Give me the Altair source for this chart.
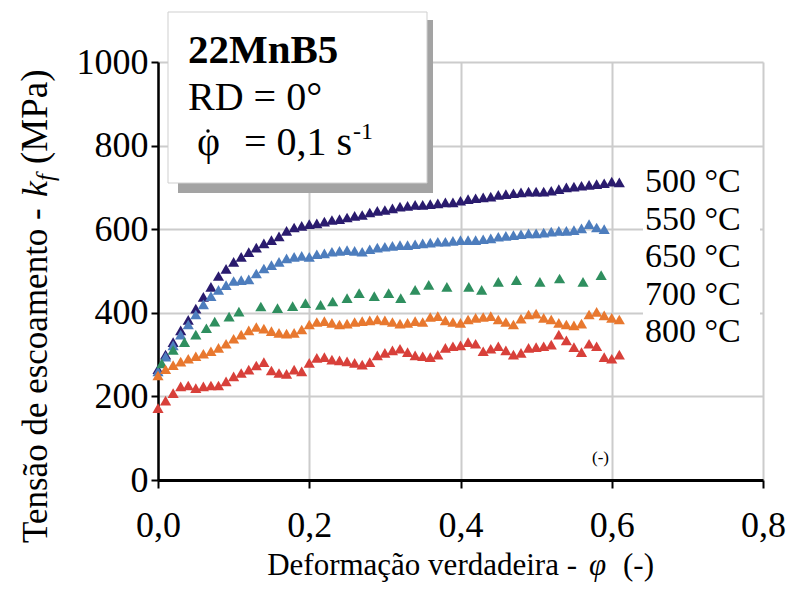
import altair as alt
import pandas as pd

series = ["500 °C", "550 °C", "650 °C", "700 °C", "800 °C"]
colors = ["#2a1b6e", "#4d7dbd", "#2f8f5f", "#e8782f", "#d8403a"]

phi_dense = [0.00, 0.01, 0.02, 0.03, 0.04, 0.05, 0.06, 0.07, 0.08, 0.09,
             0.10, 0.11, 0.12, 0.13, 0.14, 0.15, 0.16, 0.17, 0.18, 0.19,
             0.20, 0.21, 0.22, 0.23, 0.24, 0.25, 0.26, 0.27, 0.28, 0.29,
             0.30, 0.31, 0.32, 0.33, 0.34, 0.35, 0.36, 0.37, 0.38, 0.39,
             0.40, 0.41, 0.42, 0.43, 0.44, 0.45, 0.46, 0.47, 0.48, 0.49,
             0.50, 0.51, 0.52, 0.53, 0.54, 0.55, 0.56, 0.57, 0.58, 0.59,
             0.60, 0.61]

kf_500 = [265, 300, 330, 358, 383, 410, 438, 462, 488, 505,
          522, 534, 545, 556, 566, 574, 583, 596, 604, 608,
          612, 614, 618, 622, 624, 628, 632, 634, 640, 644,
          646, 650, 654, 656, 658, 658, 660, 662, 664, 664,
          668, 672, 674, 676, 678, 682, 684, 686, 688, 690,
          690, 690, 692, 696, 700, 702, 704, 706, 708, 710,
          714, 712]

kf_550 = [260, 295, 322, 348, 372, 396, 420, 440, 455, 466,
          476, 478, 480, 494, 506, 514, 522, 530, 534, 536,
          534, 540, 542, 546, 548, 550, 548, 546, 552, 556,
          558, 560, 562, 562, 564, 566, 568, 570, 570, 572,
          574, 574, 574, 576, 578, 582, 584, 586, 588, 590,
          590, 592, 594, 596, 596, 598, 602, 612, 604, 600]

phi_650 = [0.005, 0.020, 0.035, 0.050, 0.064, 0.075, 0.094, 0.107, 0.136, 0.158,
           0.178, 0.195, 0.215, 0.231, 0.250, 0.266, 0.286, 0.305, 0.321, 0.340,
           0.358, 0.382, 0.411, 0.428, 0.450, 0.474, 0.505, 0.531, 0.562, 0.586]
kf_650 = [279, 311, 330, 348, 363, 379, 391, 403, 415, 411,
          416, 423, 419, 427, 435, 447, 440, 447, 435, 455,
          467, 462, 462, 455, 474, 478, 474, 482, 474, 490]

kf_700 = [250, 265, 275, 283, 290, 296, 302, 308, 316, 326,
          338, 348, 358, 366, 362, 356, 352, 350, 352, 360,
          372, 378, 380, 376, 372, 374, 378, 380, 382, 384,
          382, 378, 374, 376, 380, 378, 390, 392, 382, 378,
          376, 384, 388, 390, 392, 384, 378, 372, 386, 396,
          398, 388, 384, 376, 372, 370, 374, 396, 402, 394,
          388, 384]

kf_800 = [172, 190, 208, 224, 226, 220, 224, 226, 226, 236,
          248, 256, 264, 274, 282, 262, 256, 254, 264, 260,
          280, 292, 294, 288, 286, 284, 280, 276, 282, 298,
          304, 310, 314, 306, 298, 296, 294, 300, 316, 320,
          322, 330, 326, 308, 314, 320, 310, 300, 304, 316,
          318, 320, 324, 348, 334, 318, 306, 326, 320, 294,
          290, 300]

rows = []
for name, xs, ys in [
    (series[0], phi_dense, kf_500),
    (series[1], phi_dense, kf_550),
    (series[2], phi_650, kf_650),
    (series[3], phi_dense, kf_700),
    (series[4], phi_dense, kf_800),
]:
    for x, y in zip(xs, ys):
        rows.append({"phi": x, "kf": y, "serie": name})
df = pd.DataFrame(rows)

SERIF = "Liberation Serif"

points = alt.Chart(df).mark_point(
    shape="triangle-up", filled=True, opacity=1
).encode(
    x=alt.X("phi:Q", scale=alt.Scale(domain=[0, 0.8], nice=False),
            axis=alt.Axis(values=[0, 0.2, 0.4, 0.6, 0.8],
                          labelExpr="replace(format(datum.value, '.1f'), '.', ',')",
                          title=None, labelFontSize=36, labelPadding=20,
                          tickSize=8, tickWidth=2, domainWidth=3)),
    y=alt.Y("kf:Q", scale=alt.Scale(domain=[0, 1000], nice=False),
            axis=alt.Axis(values=[0, 200, 400, 600, 800, 1000], format="d",
                          title=None, labelFontSize=36, labelPadding=3,
                          tickSize=7, tickWidth=2, domainWidth=2.5)),
    color=alt.Color("serie:N", sort=series,
                    scale=alt.Scale(domain=series, range=colors), legend=None),
    size=alt.Size("serie:N", sort=series,
                  scale=alt.Scale(domain=series, range=[125, 125, 135, 125, 125]), legend=None),
)

one = alt.Data(values=[{}])

shadow = alt.Chart(one).mark_rect(fill="#a3a3a3").encode(
    x=alt.value(20), x2=alt.value(275), y=alt.value(-42), y2=alt.value(131))
box = alt.Chart(one).mark_rect(fill="white", stroke="#cfcfcf", strokeWidth=1).encode(
    x=alt.value(10), x2=alt.value(269), y=alt.value(-50), y2=alt.value(121))
label_bg = alt.Chart(one).mark_rect(fill="white").encode(
    x=alt.value(485), x2=alt.value(602), y=alt.value(103), y2=alt.value(290))
dot = alt.Chart(one).mark_point(filled=True, color="black", size=12, opacity=1).encode(
    x=alt.value(50), y=alt.value(69))


def txt(text, x, y, size, align="left", baseline="alphabetic", weight="normal",
        style="normal", angle=0):
    kw = dict(text=text, font=SERIF, fontSize=size, align=align, baseline=baseline,
              fontWeight=weight, fontStyle=style, color="black")
    if angle:
        kw["angle"] = angle
    return alt.Chart(one).mark_text(**kw).encode(x=alt.value(x), y=alt.value(y))


texts = [
    txt("22MnB5", 30, 1, 41, weight="bold"),
    txt("RD = 0°", 30, 48, 40),
    txt("φ", 39, 93, 40),
    txt("= 0,1 s", 194, 93, 40, align="right"),
    txt("-1", 195, 77, 24),
    txt("(-)", 434, 396, 17, baseline="middle"),
    # series labels
    txt(series[0], 487, 120, 34, baseline="middle"),
    txt(series[1], 487, 158, 34, baseline="middle"),
    txt(series[2], 487, 195, 34, baseline="middle"),
    txt(series[3], 487, 233, 34, baseline="middle"),
    txt(series[4], 487, 270, 34, baseline="middle"),
    # x axis title
    txt("Deformação verdadeira -", 419, 513, 31, align="right"),
    txt("φ", 431, 513, 31, style="italic"),
    txt("(-)", 465, 513, 31),
    # y axis title (rotated)
    txt("Tensão de escoamento -", -111, 481, 35, angle=270),
    txt("k", -111, 135, 36, style="italic", angle=270),
    txt("f", -104, 119, 25, style="italic", angle=270),
    txt("(MPa)", -111, 102, 37, angle=270),
]

chart = alt.layer(points, label_bg, shadow, box, dot, *texts).properties(
    width=605, height=418,
    autosize=alt.AutoSizeParams(type="none"),
    padding={"left": 158, "top": 62, "right": 24, "bottom": 110},
    background="white",
).configure_view(stroke=None).configure_axis(
    labelFont=SERIF, labelColor="black", domainColor="black", tickColor="black",
    gridColor="#cccccc", gridWidth=2, labelFlush=False,
)

chart.save("out.html", embed_options={"renderer": "svg", "actions": False})
